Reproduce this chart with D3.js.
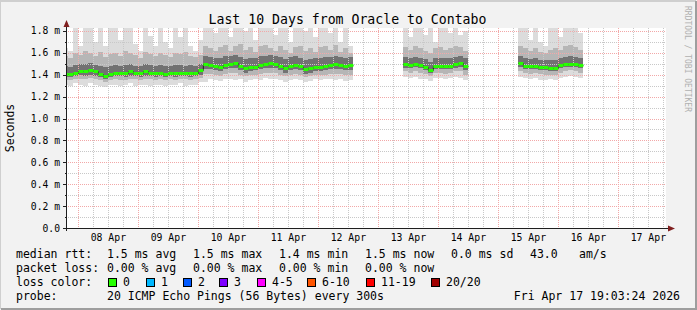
<!DOCTYPE html>
<html>
<head>
<meta charset="utf-8">
<script src="https://cdn.jsdelivr.net/npm/d3@7"></script>
<style>
  body { margin: 0; background: #f2f2f2; }
  svg { display: block; }
  text { font-family: "DejaVu Sans Mono", monospace; fill: #000; }
</style>
</head>
<body>
<div id="container"></div>
<script>
/* DATA */
const title = "Last 10 Days from Oracle to Contabo"
const endTime = "2026-04-17T19:03:24Z"
const firstBucket = "2026-04-07T18:00:00Z"   // 2 hour buckets from here, null = no data
const bucketHours = 2

const median = [
  1.41, 1.41, 1.42, 1.43, 1.43, 1.44, 1.43, 1.41, 1.39, 1.41,
  1.42, 1.42, 1.42, 1.43, 1.42, 1.42, 1.43, 1.42, 1.42, 1.42,
  1.41, 1.42, 1.42, 1.42, 1.42, 1.42, 1.42, 1.44,
  1.50, 1.49, 1.48, 1.47, 1.49, 1.50, 1.51, 1.48, 1.46, 1.47,
  1.47, 1.49, 1.50, 1.51, 1.50, 1.48, 1.46, 1.48, 1.49, 1.48,
  1.45, 1.46, 1.47, 1.47, 1.48, 1.49, 1.50, 1.49, 1.48, 1.49,
  null, null, null, null, null, null, null, null, null, null,
  1.50, 1.49, 1.50, 1.49, 1.47, 1.44, 1.48, 1.48, 1.48, 1.48, 1.50, 1.51, 1.48,
  null, null, null, null, null, null, null, null, null, null,
  1.51, 1.48, 1.48, 1.48, 1.47, 1.47, 1.46, 1.46, 1.49, 1.50, 1.50, 1.50, 1.49
]
const pingMax = [
  1.64, 1.62, 1.83, 1.66, 1.83, 1.83, 1.70, 1.83, 1.66, 1.83,
  1.83, 1.72, 1.83, 1.83, 1.68, 1.62, 1.83, 1.75, 1.66, 1.83,
  1.70, 1.64, 1.83, 1.74, 1.83, 1.66, 1.62, 1.72,
  1.83, 1.83, 1.78, 1.83, 1.83, 1.74, 1.83, 1.83, 1.80, 1.83,
  1.72, 1.83, 1.83, 1.83, 1.76, 1.83, 1.83, 1.70, 1.83, 1.83,
  1.80, 1.83, 1.74, 1.83, 1.83, 1.78, 1.83, 1.70, 1.83, 1.66,
  null, null, null, null, null, null, null, null, null, null,
  1.83, 1.74, 1.83, 1.83, 1.76, 1.83, 1.70, 1.83, 1.83, 1.78, 1.83, 1.76, 1.80,
  null, null, null, null, null, null, null, null, null, null,
  1.83, 1.83, 1.72, 1.83, 1.70, 1.66, 1.83, 1.83, 1.74, 1.83, 1.83, 1.83, 1.78
]
const ping90 = [
  1.57, 1.55, 1.60, 1.58, 1.62, 1.60, 1.57, 1.61, 1.56, 1.59,
  1.60, 1.57, 1.62, 1.60, 1.58, 1.55, 1.61, 1.59, 1.57, 1.60,
  1.58, 1.56, 1.60, 1.59, 1.61, 1.57, 1.56, 1.58,
  1.66, 1.64, 1.62, 1.65, 1.67, 1.62, 1.66, 1.68, 1.63, 1.65,
  1.61, 1.66, 1.67, 1.64, 1.62, 1.66, 1.63, 1.60, 1.65, 1.66,
  1.62, 1.64, 1.61, 1.65, 1.66, 1.63, 1.67, 1.61, 1.64, 1.60,
  null, null, null, null, null, null, null, null, null, null,
  1.65, 1.63, 1.66, 1.64, 1.62, 1.60, 1.64, 1.65, 1.63, 1.64, 1.66, 1.65, 1.62,
  null, null, null, null, null, null, null, null, null, null,
  1.66, 1.64, 1.62, 1.64, 1.61, 1.60, 1.63, 1.64, 1.63, 1.66, 1.67, 1.65, 1.63
]
const ping75 = [
  1.48, 1.47, 1.49, 1.50, 1.50, 1.51, 1.49, 1.48, 1.47, 1.48,
  1.49, 1.48, 1.49, 1.50, 1.48, 1.48, 1.50, 1.49, 1.48, 1.49,
  1.48, 1.48, 1.49, 1.49, 1.48, 1.49, 1.48, 1.50,
  1.57, 1.56, 1.55, 1.55, 1.57, 1.57, 1.58, 1.56, 1.54, 1.55,
  1.55, 1.57, 1.57, 1.58, 1.57, 1.56, 1.54, 1.56, 1.57, 1.55,
  1.53, 1.54, 1.55, 1.55, 1.56, 1.56, 1.57, 1.56, 1.55, 1.56,
  null, null, null, null, null, null, null, null, null, null,
  1.56, 1.55, 1.56, 1.55, 1.54, 1.52, 1.55, 1.55, 1.55, 1.55, 1.56, 1.57, 1.55,
  null, null, null, null, null, null, null, null, null, null,
  1.57, 1.55, 1.54, 1.55, 1.53, 1.53, 1.53, 1.53, 1.55, 1.56, 1.57, 1.56, 1.55
]
const ping25 = [
  1.38, 1.38, 1.39, 1.40, 1.39, 1.40, 1.39, 1.38, 1.36, 1.38,
  1.39, 1.39, 1.38, 1.39, 1.39, 1.38, 1.39, 1.39, 1.38, 1.39,
  1.38, 1.39, 1.38, 1.39, 1.39, 1.38, 1.39, 1.40,
  1.45, 1.45, 1.44, 1.43, 1.45, 1.46, 1.46, 1.44, 1.42, 1.43,
  1.44, 1.45, 1.46, 1.46, 1.46, 1.44, 1.42, 1.44, 1.45, 1.44,
  1.41, 1.42, 1.43, 1.43, 1.44, 1.45, 1.45, 1.45, 1.44, 1.44,
  null, null, null, null, null, null, null, null, null, null,
  1.46, 1.46, 1.47, 1.46, 1.44, 1.42, 1.45, 1.45, 1.45, 1.45, 1.46, 1.47, 1.44,
  null, null, null, null, null, null, null, null, null, null,
  1.47, 1.45, 1.45, 1.45, 1.44, 1.44, 1.43, 1.43, 1.46, 1.47, 1.47, 1.47, 1.46
]
const ping10 = [
  1.35, 1.35, 1.36, 1.36, 1.36, 1.37, 1.36, 1.35, 1.33, 1.35,
  1.36, 1.35, 1.35, 1.36, 1.36, 1.35, 1.36, 1.36, 1.35, 1.36,
  1.35, 1.36, 1.35, 1.36, 1.36, 1.35, 1.36, 1.37,
  1.41, 1.41, 1.40, 1.39, 1.41, 1.42, 1.42, 1.40, 1.39, 1.40,
  1.40, 1.41, 1.42, 1.42, 1.42, 1.40, 1.39, 1.40, 1.41, 1.40,
  1.38, 1.39, 1.40, 1.40, 1.40, 1.41, 1.41, 1.41, 1.40, 1.40,
  null, null, null, null, null, null, null, null, null, null,
  1.43, 1.42, 1.43, 1.42, 1.41, 1.39, 1.42, 1.42, 1.41, 1.42, 1.43, 1.43, 1.40,
  null, null, null, null, null, null, null, null, null, null,
  1.43, 1.42, 1.41, 1.42, 1.41, 1.40, 1.40, 1.40, 1.42, 1.43, 1.44, 1.43, 1.42
]
const pingMin = [
  1.31, 1.30, 1.32, 1.31, 1.30, 1.32, 1.31, 1.30, 1.29, 1.31,
  1.31, 1.30, 1.31, 1.32, 1.30, 1.31, 1.31, 1.30, 1.31, 1.31,
  1.30, 1.31, 1.31, 1.32, 1.30, 1.31, 1.31, 1.33,
  1.33, 1.36, 1.35, 1.34, 1.36, 1.36, 1.35, 1.36, 1.33, 1.35,
  1.36, 1.35, 1.37, 1.36, 1.36, 1.35, 1.33, 1.35, 1.36, 1.35,
  1.33, 1.34, 1.36, 1.35, 1.36, 1.36, 1.35, 1.36, 1.34, 1.35,
  null, null, null, null, null, null, null, null, null, null,
  1.38, 1.37, 1.38, 1.36, 1.36, 1.34, 1.37, 1.37, 1.36, 1.37, 1.38, 1.37, 1.35,
  null, null, null, null, null, null, null, null, null, null,
  1.38, 1.37, 1.36, 1.37, 1.35, 1.35, 1.36, 1.35, 1.37, 1.38, 1.39, 1.38, 1.37
]

const yTicks = [0, 0.2, 0.4, 0.6, 0.8, 1.0, 1.2, 1.4, 1.6, 1.8]
const yTickLabels = ["0.0", "0.2 m", "0.4 m", "0.6 m", "0.8 m", "1.0 m", "1.2 m", "1.4 m", "1.6 m", "1.8 m"]
const dayLabels = ["08 Apr", "09 Apr", "10 Apr", "11 Apr", "12 Apr", "13 Apr", "14 Apr", "15 Apr", "16 Apr", "17 Apr"]

const rttStats = ["1.5 ms avg", "1.5 ms max", "1.4 ms min", "1.5 ms now", "0.0 ms sd", "43.0", "am/s"]
const lossStats = ["0.00 % avg", "0.00 % max", "0.00 % min", "0.00 % now"]
const lossLabels = ["0", "1", "2", "3", "4-5", "6-10", "11-19", "20/20"]
const lossColors = ["#26ff00", "#00b8ff", "#0059ff", "#7e00ff", "#ff00ff", "#ff5500", "#ff0000", "#a10000"]
const probeText = "20 ICMP Echo Pings (56 Bytes) every 300s"
const stamp = "Fri Apr 17 19:03:24 2026"

/* CONSTANTS */
const width = 697, height = 310
const plot = { left: 66, right: 666, top: 28, bottom: 228 }
const HOUR = 3600 * 1000

const end = new Date(endTime)
const start = new Date(+end - 10 * 24 * HOUR)
const t0 = new Date(firstBucket)

/* SCALES */
const xScale = d3.scaleUtc()
  .domain([start, end])
  .range([plot.left, plot.right])

const yScale = d3.scaleLinear()
  .domain([0, 1.8265])
  .range([plot.bottom, plot.top])

const svg = d3.select("#container")
  .append("svg")
  .attr("width", width)
  .attr("height", height)

// background + 3d frame
svg.append("rect").attr("width", width).attr("height", height).attr("fill", "#f2f2f2")
svg.append("path").attr("d", `M0,${height - 1} V1 H${width - 1}`)
  .attr("stroke", "#cfcfcf").attr("stroke-width", 2).attr("fill", "none")
svg.append("path").attr("d", `M1,${height - 1} H${width - 1} V1`)
  .attr("stroke", "#9e9e9e").attr("stroke-width", 2).attr("fill", "none")

svg.append("rect")
  .attr("x", plot.left).attr("y", plot.top)
  .attr("width", plot.right - plot.left).attr("height", plot.bottom - plot.top)
  .attr("fill", "#fff")

svg.append("clipPath").attr("id", "clip")
  .append("rect")
  .attr("x", plot.left).attr("y", plot.top)
  .attr("width", plot.right - plot.left).attr("height", plot.bottom - plot.top)

// buckets
const buckets = median.map((m, i) => ({
  t: new Date(+t0 + i * bucketHours * HOUR),
  t1: new Date(+t0 + (i + 1) * bucketHours * HOUR),
  med: m, max: pingMax[i], p90: ping90[i], p75: ping75[i],
  p25: ping25[i], p10: ping10[i], min: pingMin[i]
})).filter(d => d.med != null)

const g = svg.append("g").attr("clip-path", "url(#clip)")

// smoke
const bands = [
  { lo: "min", hi: "max", color: "#dcdcdc" },
  { lo: "p10", hi: "p90", color: "#b6b6b6" },
  { lo: "p25", hi: "p75", color: "#727272" }
]
bands.forEach(b => {
  g.append("g")
    .selectAll("rect")
    .data(buckets)
    .join("rect")
    .attr("x", d => xScale(d.t))
    .attr("width", d => xScale(d.t1) - xScale(d.t))
    .attr("y", d => yScale(d[b.hi]))
    .attr("height", d => yScale(d[b.lo]) - yScale(d[b.hi]))
    .attr("fill", b.color)
    .attr("shape-rendering", "crispEdges")
})

// grid (drawn over the smoke)
const grid = svg.append("g")
const minorTimes = d3.utcHour.every(6).range(start, end).filter(d => d.getUTCHours() !== 0)
const majorTimes = d3.utcDay.range(start, end)
const minorVals = d3.range(1, 19, 2).map(d => d / 10)
const majorVals = yTicks.filter(d => d > 0)

grid.selectAll("line.minx").data(minorTimes).join("line")
  .attr("x1", d => Math.round(xScale(d)) + 0.5).attr("x2", d => Math.round(xScale(d)) + 0.5)
  .attr("y1", plot.top).attr("y2", plot.bottom)
  .attr("stroke", "#c8c8c8").attr("stroke-dasharray", "1,1")
grid.selectAll("line.miny").data(minorVals).join("line")
  .attr("y1", d => Math.round(yScale(d)) + 0.5).attr("y2", d => Math.round(yScale(d)) + 0.5)
  .attr("x1", plot.left).attr("x2", plot.right)
  .attr("stroke", "#c8c8c8").attr("stroke-dasharray", "1,1")
grid.selectAll("line.majx").data(majorTimes).join("line")
  .attr("x1", d => Math.round(xScale(d)) + 0.5).attr("x2", d => Math.round(xScale(d)) + 0.5)
  .attr("y1", plot.top).attr("y2", plot.bottom + 2)
  .attr("stroke", "#f2a8a8").attr("stroke-dasharray", "1,1")
grid.selectAll("line.majy").data(majorVals).join("line")
  .attr("y1", d => Math.round(yScale(d)) + 0.5).attr("y2", d => Math.round(yScale(d)) + 0.5)
  .attr("x1", plot.left).attr("x2", plot.right)
  .attr("stroke", "#f2a8a8").attr("stroke-dasharray", "1,1")

// median: thin dark step line, then green (0 loss) segments
const g2 = svg.append("g").attr("clip-path", "url(#clip)")
const stepPts = []
buckets.forEach((d, i) => {
  const prev = buckets[i - 1]
  if (prev && +prev.t1 !== +d.t) stepPts.push(null)
  stepPts.push([d.t, d.med], [d.t1, d.med])
})
const line = d3.line()
  .defined(d => d != null)
  .x(d => xScale(d[0]))
  .y(d => Math.round(yScale(d[1])) + 0.5)
g2.append("path")
  .attr("d", line(stepPts))
  .attr("fill", "none")
  .attr("stroke", "#202020")
  .attr("stroke-width", 1)
g2.selectAll("line.med").data(buckets).join("line")
  .attr("x1", d => xScale(d.t)).attr("x2", d => xScale(d.t1))
  .attr("y1", d => Math.round(yScale(d.med)) + 0.5)
  .attr("y2", d => Math.round(yScale(d.med)) + 0.5)
  .attr("stroke", lossColors[0])
  .attr("stroke-width", 3)

// axes
const axisCol = "#1f1f1f", arrowCol = "#801f1f"
svg.append("line")
  .attr("x1", 63).attr("x2", 669).attr("y1", plot.bottom + 0.5).attr("y2", plot.bottom + 0.5)
  .attr("stroke", axisCol)
svg.append("line")
  .attr("x1", plot.left + 0.5).attr("x2", plot.left + 0.5).attr("y1", 24).attr("y2", plot.bottom + 3)
  .attr("stroke", axisCol)
svg.append("path")
  .attr("d", `M${plot.left + 0.5},20 L${plot.left + 3.5},27 L${plot.left - 2.5},27 Z`)
  .attr("fill", arrowCol)
svg.append("path")
  .attr("d", `M675,${plot.bottom + 0.5} L668,${plot.bottom - 2.5} L668,${plot.bottom + 3.5} Z`)
  .attr("fill", arrowCol)

// y ticks and labels
svg.selectAll("line.ytick").data(yTicks).join("line")
  .attr("x1", plot.left - 3).attr("x2", plot.left)
  .attr("y1", d => Math.round(yScale(d)) + 0.5).attr("y2", d => Math.round(yScale(d)) + 0.5)
  .attr("stroke", axisCol)
svg.selectAll("line.ytickm").data(minorVals).join("line")
  .attr("x1", plot.left - 1).attr("x2", plot.left)
  .attr("y1", d => Math.round(yScale(d)) + 0.5).attr("y2", d => Math.round(yScale(d)) + 0.5)
  .attr("stroke", axisCol)
svg.selectAll("text.ylab").data(yTicks).join("text")
  .attr("x", 60)
  .attr("y", d => yScale(d) + 3.5)
  .attr("text-anchor", "end")
  .style("font-size", "9.7px")
  .text((d, i) => yTickLabels[i])

// x labels at noon
svg.selectAll("text.xlab").data(majorTimes).join("text")
  .attr("x", d => xScale(d3.utcHour.offset(d, 12)))
  .attr("y", 241)
  .attr("text-anchor", "middle")
  .style("font-size", "9.8px")
  .text((d, i) => dayLabels[i])

// titles
svg.append("text")
  .attr("x", 347.5).attr("y", 24)
  .attr("text-anchor", "middle")
  .style("font-size", "13.2px")
  .text(title)
svg.append("text")
  .attr("transform", "translate(14,128) rotate(-90)")
  .attr("text-anchor", "middle")
  .style("font-size", "11.5px")
  .text("Seconds")
svg.append("text")
  .attr("transform", "translate(685,59) rotate(90)")
  .attr("text-anchor", "middle")
  .style("font-size", "8px")
  .style("fill", "#b0b0b0")
  .text("RRDTOOL / TOBI OETIKER")

/* LEGEND */
const lg = svg.append("g").style("font-size", "11.5px")
const statX = [107, 193, 279, 365, 451, 530, 579]
lg.append("text").attr("x", 16).attr("y", 258).text("median rtt:")
lg.selectAll("text.rtt").data(rttStats).join("text")
  .attr("x", (d, i) => statX[i]).attr("y", 258).text(d => d)
lg.append("text").attr("x", 16).attr("y", 272).text("packet loss:")
lg.selectAll("text.loss").data(lossStats).join("text")
  .attr("x", (d, i) => statX[i]).attr("y", 272).text(d => d)
lg.append("text").attr("x", 16).attr("y", 286).text("loss color:")
const boxX = [108, 146, 183, 219, 257, 307, 366, 431]
lg.selectAll("rect.lc").data(lossLabels).join("rect")
  .attr("x", (d, i) => boxX[i] + 0.5).attr("y", 278.5)
  .attr("width", 8).attr("height", 8)
  .attr("fill", (d, i) => lossColors[i])
  .attr("stroke", "#000")
lg.selectAll("text.lc").data(lossLabels).join("text")
  .attr("x", (d, i) => boxX[i] + 15).attr("y", 286).text(d => d)
lg.append("text").attr("x", 16).attr("y", 300).text("probe:")
lg.append("text").attr("x", 107).attr("y", 300).text(probeText)
lg.append("text").attr("x", 680).attr("y", 300).attr("text-anchor", "end").text(stamp)
</script>
</body>
</html>
